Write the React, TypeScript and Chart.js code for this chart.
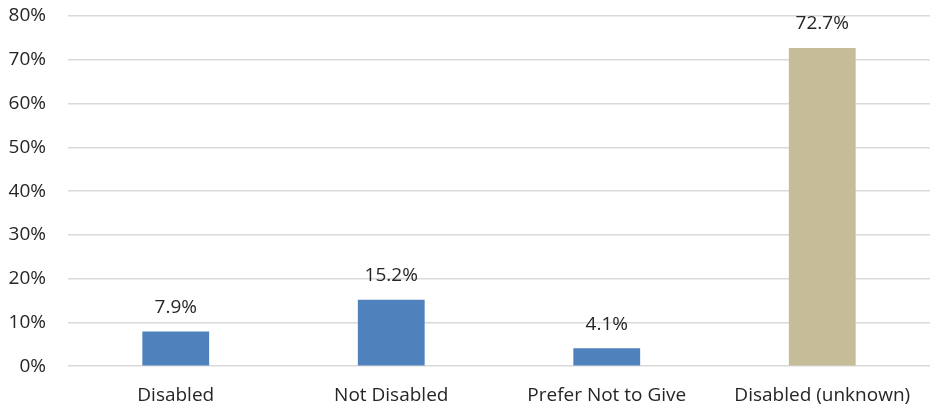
import React, { useEffect, useRef } from "react";
import { Chart, registerables } from "chart.js";

Chart.register(...registerables);

const categories = ["Disabled", "Not Disabled", "Prefer Not to Give", "Disabled (unknown)"];
const values = [7.9, 15.2, 4.1, 72.7];
const barColors = ["#4F81BD", "#4F81BD", "#4F81BD", "#C4BD97"];
const yTicks = [0, 10, 20, 30, 40, 50, 60, 70, 80];

const FONT = "'Open Sans', 'Noto Sans', sans-serif";

const labelPlugin = {
  id: "barLabels",
  afterDatasetsDraw(chart: any) {
    const ctx = chart.ctx;
    const meta = chart.getDatasetMeta(0);
    ctx.save();
    ctx.fillStyle = "#262626";
    ctx.font = `19px ${FONT}`;
    ctx.textAlign = "center";
    ctx.textBaseline = "middle";
    meta.data.forEach((bar: any, i: number) => {
      ctx.fillText(values[i].toFixed(1) + "%", bar.x, bar.y - 24);
    });
    ctx.restore();
  },
};

export default function App() {
  const ref = useRef<HTMLCanvasElement | null>(null);
  useEffect(() => {
    document.body.style.margin = "0";
    const chart = new Chart(ref.current as HTMLCanvasElement, {
      type: "bar",
      data: {
        labels: categories,
        datasets: [
          {
            data: values,
            backgroundColor: barColors,
            categoryPercentage: 1,
            barPercentage: 0.31,
          },
        ],
      },
      options: {
        animation: false,
        responsive: false,
        layout: { padding: { top: 16, right: 3, left: 0, bottom: -9 } },
        plugins: { legend: { display: false }, tooltip: { enabled: false } },
        scales: {
          x: {
            grid: { display: false },
            border: { display: false },
            ticks: { color: "#262626", font: { family: FONT, size: 19 }, padding: 10 },
          },
          y: {
            min: 0,
            max: 80,
            afterBuildTicks: (scale: any) => {
              scale.ticks = yTicks.map((v) => ({ value: v }));
            },
            afterFit: (scale: any) => {
              scale.width = 68;
              scale.paddingTop = 0;
              scale.paddingBottom = 0;
            },
            grid: { color: "#D9D9D9", lineWidth: 1.5, drawTicks: false },
            border: { display: false },
            ticks: {
              color: "#262626",
              font: { family: FONT, size: 19 },
              padding: 22,
              callback: (v: any) => v + "%",
            },
          },
        },
      },
      plugins: [labelPlugin],
    });
    return () => chart.destroy();
  }, []);
  return (
    <div style={{ width: 933, height: 408 }}>
      <canvas ref={ref} width={933} height={408} />
    </div>
  );
}
